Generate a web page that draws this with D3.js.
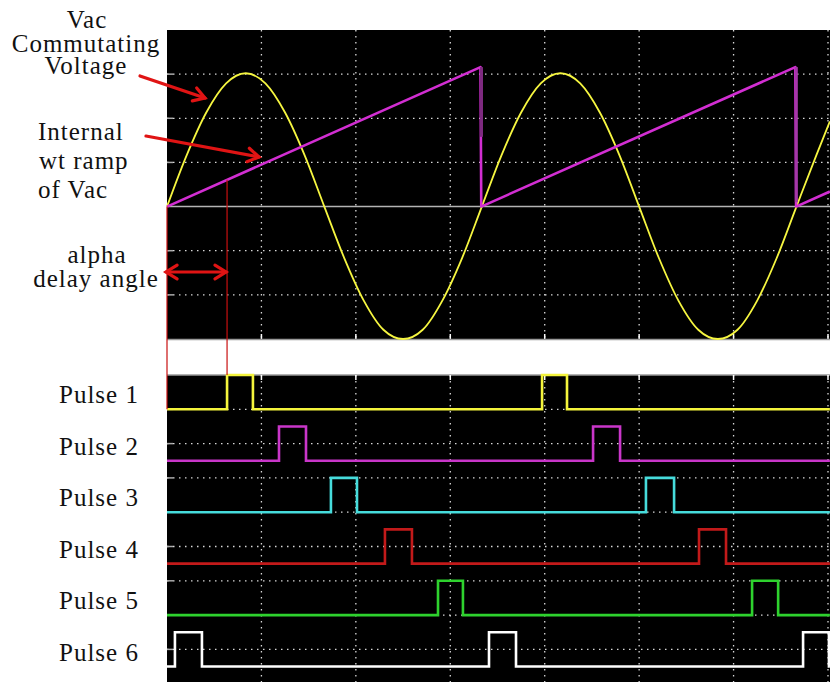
<!DOCTYPE html>
<html>
<head>
<meta charset="utf-8">
<script src="https://cdn.jsdelivr.net/npm/d3@7"></script>
<style>
  html, body { margin: 0; padding: 0; background: #ffffff; }
  svg { display: block; }
  text { font-family: "Liberation Serif", "Times New Roman", serif; font-size: 25px; letter-spacing: 1px; fill: #111; }
</style>
</head>
<body>
<svg id="chart" width="830" height="682"></svg>
<script>
// ---------------- DATA ----------------
// time axis in ms, 5 ms / division
const timeTicks = [5, 10, 15, 20, 25, 30, 35];
// top panel vertical divisions
const topGridLevels = [-2, -1, 1, 2, 3];
// Vac commutating voltage samples (time ms, value in divisions)
const vacTime = [0, 1.04, 2.08, 3.13, 4.17, 5.21, 6.25, 7.29, 8.33, 9.38, 10.42, 11.46, 12.5, 13.54, 14.58, 15.63,
                 16.67, 17.71, 18.75, 19.79, 20.83, 21.88, 22.92, 23.96, 25.0, 26.04, 27.08, 28.13, 29.17, 30.21, 31.25, 32.29,
                 33.33, 34.38, 35.1];
const vacValue = [0, 1.16, 2.13, 2.79, 3.02, 2.79, 2.13, 1.16, 0, -1.16, -2.13, -2.79, -3.0, -2.79, -2.13, -1.16,
                  0, 1.16, 2.13, 2.79, 3.02, 2.79, 2.13, 1.16, 0, -1.16, -2.13, -2.79, -3.0, -2.79, -2.13, -1.16,
                  0, 1.16, 1.93];
// internal wt ramp of Vac
const rampTime = [0, 16.6, 16.64, 33.27, 33.31, 35.1];
const rampValue = [0, 3.16, 0, 3.16, 0, 0.34];
// gate pulses: [rise, fall] in ms for each channel
const pulseNames = ["Pulse 1", "Pulse 2", "Pulse 3", "Pulse 4", "Pulse 5", "Pulse 6"];
const pulse1 = [[3.18, 4.55], [19.86, 21.18]];
const pulse2 = [[5.93, 7.36], [22.56, 23.99]];
const pulse3 = [[8.68, 10.06], [25.36, 26.85]];
const pulse4 = [[11.54, 12.97], [28.17, 29.6]];
const pulse5 = [[14.35, 15.67], [30.98, 32.36]];
const pulse6 = [[0.42, 1.85], [17.05, 18.48], [33.68, 35.05]];
const pulseColors = ["#f4f43c", "#c936c9", "#46dcdc", "#c21a1a", "#2ed22e", "#ffffff"];
const pulseGridLevels = [1, 2, 3, 4, 5, 6, 7, 8];
const alphaDelay = 3.18; // ms

// ---------------- LAYOUT ----------------
const svg = d3.select("#chart");
const X0 = 167, X1 = 830;
const TOP0 = 30, TOP1 = 339;
const BOT0 = 375, BOT1 = 682;
const tMax = 35.1;

const x = d3.scaleLinear().domain([0, 35]).range([167, 828]);
const yTop = d3.scaleLinear().domain([-3, 4]).range([TOP1, TOP0]);
const yBot = d3.scaleLinear().domain([0, 9]).range([BOT0, BOT0 + 9 * 34.3]);

svg.append("rect").attr("width", 830).attr("height", 682).attr("fill", "#fff");

// panels
svg.append("rect").attr("x", X0).attr("y", TOP0).attr("width", X1 - X0).attr("height", TOP1 - TOP0).attr("fill", "#000");
svg.append("rect").attr("x", X0).attr("y", BOT0).attr("width", X1 - X0).attr("height", BOT1 - BOT0).attr("fill", "#000");

const gridStyle = (sel) => sel.attr("stroke", "#d8d8d8").attr("stroke-width", 1.3).attr("stroke-dasharray", "1.5,4.5");

// top panel grid
const gTop = svg.append("g");
gTop.selectAll("line.v").data(timeTicks).join("line")
  .attr("x1", d => x(d)).attr("x2", d => x(d)).attr("y1", TOP0).attr("y2", TOP1)
  .call(gridStyle);
gTop.selectAll("line.h").data(topGridLevels).join("line")
  .attr("x1", X0).attr("x2", X1).attr("y1", d => yTop(d)).attr("y2", d => yTop(d))
  .call(gridStyle);
gTop.selectAll("line.lt").data(topGridLevels).join("line")
  .attr("x1", X0).attr("x2", X0 + 6).attr("y1", d => yTop(d)).attr("y2", d => yTop(d))
  .attr("stroke", "#aaa").attr("stroke-width", 1.5);
gTop.selectAll("line.bt").data(timeTicks).join("line")
  .attr("x1", d => x(d)).attr("x2", d => x(d)).attr("y1", TOP1 - 5).attr("y2", TOP1)
  .attr("stroke", "#fff").attr("stroke-width", 1.5);
// zero line
gTop.append("line").attr("x1", X0).attr("x2", X1).attr("y1", yTop(0)).attr("y2", yTop(0))
  .attr("stroke", "#b4b4b4").attr("stroke-width", 1.5);
// panel border lines
svg.append("line").attr("x1", X0).attr("x2", X1).attr("y1", TOP1 + 0.5).attr("y2", TOP1 + 0.5).attr("stroke", "#999").attr("stroke-width", 1.5);
svg.append("line").attr("x1", X0).attr("x2", X1).attr("y1", BOT0).attr("y2", BOT0).attr("stroke", "#999").attr("stroke-width", 1.5);

// pulse panel grid
const gBot = svg.append("g");
gBot.selectAll("line.v").data(timeTicks).join("line")
  .attr("x1", d => x(d)).attr("x2", d => x(d)).attr("y1", BOT0).attr("y2", BOT1)
  .call(gridStyle);
gBot.selectAll("line.h").data(pulseGridLevels).join("line")
  .attr("x1", X0).attr("x2", X1).attr("y1", d => yBot(d)).attr("y2", d => yBot(d))
  .call(gridStyle);
gBot.selectAll("line.lt").data(pulseGridLevels).join("line")
  .attr("x1", X0).attr("x2", X0 + 6).attr("y1", d => yBot(d)).attr("y2", d => yBot(d))
  .attr("stroke", "#aaa").attr("stroke-width", 1.5);
gBot.selectAll("line.tt").data(timeTicks).join("line")
  .attr("x1", d => x(d)).attr("x2", d => x(d)).attr("y1", BOT0).attr("y2", BOT0 + 5)
  .attr("stroke", "#fff").attr("stroke-width", 1.5);

// ---------------- TRACES ----------------
const vacData = vacTime.map((t, i) => [t, vacValue[i]]);
const lineTop = d3.line().x(d => x(d[0])).y(d => yTop(d[1]));
svg.append("path").datum(vacData)
  .attr("d", lineTop.curve(d3.curveMonotoneX))
  .attr("fill", "none").attr("stroke", "#f6f640").attr("stroke-width", 1.8);

const rampData = rampTime.map((t, i) => [t, rampValue[i]]);
svg.append("path").datum(rampData)
  .attr("d", d3.line().x(d => x(d[0])).y(d => yTop(d[1])))
  .attr("fill", "none").attr("stroke", "#d22ed2").attr("stroke-width", 2.6).attr("stroke-linejoin", "round");
// darker upper part of the first retrace
svg.append("line")
  .attr("x1", x(rampTime[1]) + 1).attr("x2", x(rampTime[1]) + 1)
  .attr("y1", yTop(rampValue[1])).attr("y2", yTop(rampValue[1] / 2))
  .attr("stroke", "#7e2a80").attr("stroke-width", 3);
svg.append("line")
  .attr("x1", x(rampTime[3]) + 1).attr("x2", x(rampTime[3]) + 1)
  .attr("y1", yTop(rampValue[3])).attr("y2", yTop(0.1))
  .attr("stroke", "#a538a8").attr("stroke-width", 3);

// pulses
const pulses = [pulse1, pulse2, pulse3, pulse4, pulse5, pulse6];
pulses.forEach((p, i) => {
  const hi = 1.5 * i, lo = 1.5 * i + 1;
  const pts = [[0, lo]];
  p.forEach(([a, b]) => { pts.push([a, lo], [a, hi], [b, hi], [b, lo]); });
  pts.push([tMax, lo]);
  svg.append("path").datum(pts)
    .attr("d", d3.line().x(d => x(d[0])).y(d => yBot(d[1])))
    .attr("fill", "none").attr("stroke", pulseColors[i]).attr("stroke-width", 2.6)
    .attr("stroke-linejoin", "miter");
  svg.append("text").attr("x", 59).attr("y", yBot(lo) - 6).text(pulseNames[i]);
});

// ---------------- ANNOTATIONS ----------------
const red = "#e01414";
// alpha delay reference lines
svg.append("line").attr("x1", x(0)).attr("x2", x(0)).attr("y1", yTop(0)).attr("y2", yBot(1))
  .attr("stroke", "#c81010").attr("stroke-width", 1.2);
const rampAtAlpha = rampValue[1] * alphaDelay / rampTime[1];
svg.append("line").attr("x1", x(alphaDelay)).attr("x2", x(alphaDelay)).attr("y1", yTop(rampAtAlpha)).attr("y2", yBot(0))
  .attr("stroke", "#c81010").attr("stroke-width", 1.2);

function arrowHead(px, py, ang, len, spread) {
  const a1 = ang + Math.PI - spread, a2 = ang + Math.PI + spread;
  return `M${px + len * Math.cos(a1)},${py + len * Math.sin(a1)}L${px},${py}L${px + len * Math.cos(a2)},${py + len * Math.sin(a2)}`;
}
function arrow(x1, y1, x2, y2, both) {
  const g = svg.append("g").attr("fill", "none").attr("stroke", red).attr("stroke-width", 3.2).attr("stroke-linecap", "round");
  g.append("line").attr("x1", x1).attr("y1", y1).attr("x2", x2).attr("y2", y2);
  const ang = Math.atan2(y2 - y1, x2 - x1);
  g.append("path").attr("d", arrowHead(x2, y2, ang, 13, 0.55));
  if (both) g.append("path").attr("d", arrowHead(x1, y1, ang + Math.PI, 13, 0.55));
}
arrow(140, 76, 205, 98, false);
arrow(146, 136, 259, 157, false);
arrow(x(0) - 1, 272, x(alphaDelay) - 1, 272, true);

// labels
const lab = (t, xx, yy, anchor) => svg.append("text").attr("x", xx).attr("y", yy).attr("text-anchor", anchor || "start").text(t);
lab("Vac", 87, 28, "middle");
lab("Commutating", 86, 52, "middle");
lab("Voltage", 86, 74, "middle");
lab("Internal", 38, 140);
lab("wt ramp", 39, 169);
lab("of Vac", 38, 198);
lab("alpha", 97, 263, "middle");
lab("delay angle", 96, 287, "middle");
</script>
</body>
</html>
